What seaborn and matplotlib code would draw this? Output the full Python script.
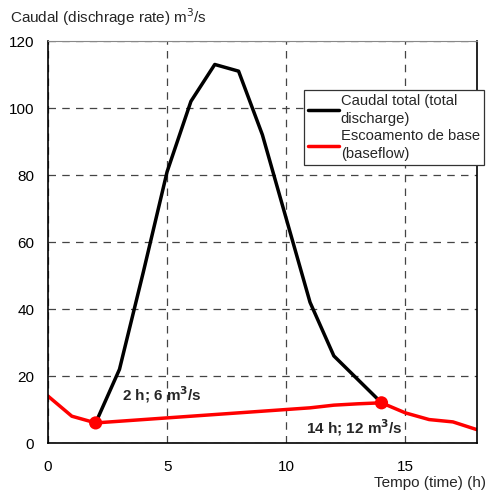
import pandas as pd
import matplotlib.pyplot as plt
import seaborn as sns

# Hydrograph values
hours = list(range(0, 19))
total_hours = list(range(2, 15))
total_discharge = [6, 22, 51, 81, 102, 113, 111, 92, 67, 42, 26, 19, 12]
baseflow = [14, 8, 6, 6.5, 7, 7.5, 8, 8.5, 9, 9.5, 10, 10.5, 11.3, 11.7, 12, 9, 7, 6.3, 4]
marker_hours = [2, 14]
marker_values = [6, 12]

total_df = pd.DataFrame({'Hour': total_hours, 'Discharge': total_discharge})
base_df = pd.DataFrame({'Hour': hours, 'Discharge': baseflow})
marker_df = pd.DataFrame({'Hour': marker_hours, 'Discharge': marker_values})

sns.set_style('white')
plt.rcParams['font.family'] = ['Liberation Sans', 'DejaVu Sans']

fig = plt.figure(figsize=(4.88, 4.93), dpi=100)
ax = fig.add_axes([0.0984, 0.1014, 0.8786, 0.8154])

sns.lineplot(data=total_df, x='Hour', y='Discharge', color='black', linewidth=2.5,
             label='Caudal total (total\ndischarge)', ax=ax)
sns.lineplot(data=base_df, x='Hour', y='Discharge', color='#ff0000', linewidth=2.5,
             label='Escoamento de base\n(baseflow)', ax=ax)
sns.scatterplot(data=marker_df, x='Hour', y='Discharge', color='#ff0000', s=90,
                edgecolor='none', zorder=5, ax=ax, legend=False)

ax.set_xlim(0, 18)
ax.set_ylim(0, 120)
ax.set_xticks([0, 5, 10, 15])
ax.set_yticks(range(0, 121, 20))
ax.grid(True, color='#444444', linestyle=(0, (6, 5)), linewidth=0.9)
ax.tick_params(direction='inout', length=8, width=1, labelsize=11, colors='black')
ax.tick_params(axis='x', pad=8)
ax.tick_params(axis='y', pad=6)
for side in ['left', 'bottom', 'right']:
    ax.spines[side].set_color('black')
    ax.spines[side].set_linewidth(1.2)
ax.spines['top'].set_color('#888888')
ax.set_xlabel('')
ax.set_ylabel('')

fig.text(10 / 488, 1 - 17 / 493, 'Caudal (dischrage rate) m$^3$/s',
         fontsize=11, ha='left', va='center')
fig.text(486 / 488, 1 - 483 / 493, 'Tempo (time) (h)',
         fontsize=11, ha='right', va='center')

ax.text(3.1, 14.3, '2 h; 6 m$^\\mathbf{3}$/s', fontsize=11, fontweight='bold',
        ha='left', va='center')
ax.text(10.85, 4.5, '14 h; 12 m$^\\mathbf{3}$/s', fontsize=11, fontweight='bold',
        ha='left', va='center')

leg = ax.legend(loc='upper left', bbox_to_anchor=(0.597, 0.878), fontsize=10.6,
                frameon=True, fancybox=False, edgecolor='#333333', framealpha=1,
                handlelength=2.1, handletextpad=0.15, borderpad=0.25,
                labelspacing=0.2, borderaxespad=0)
leg.get_frame().set_linewidth(0.9)
for t in leg.get_texts():
    t.set_linespacing(1.4)

fig.savefig('out.png', dpi=100)
